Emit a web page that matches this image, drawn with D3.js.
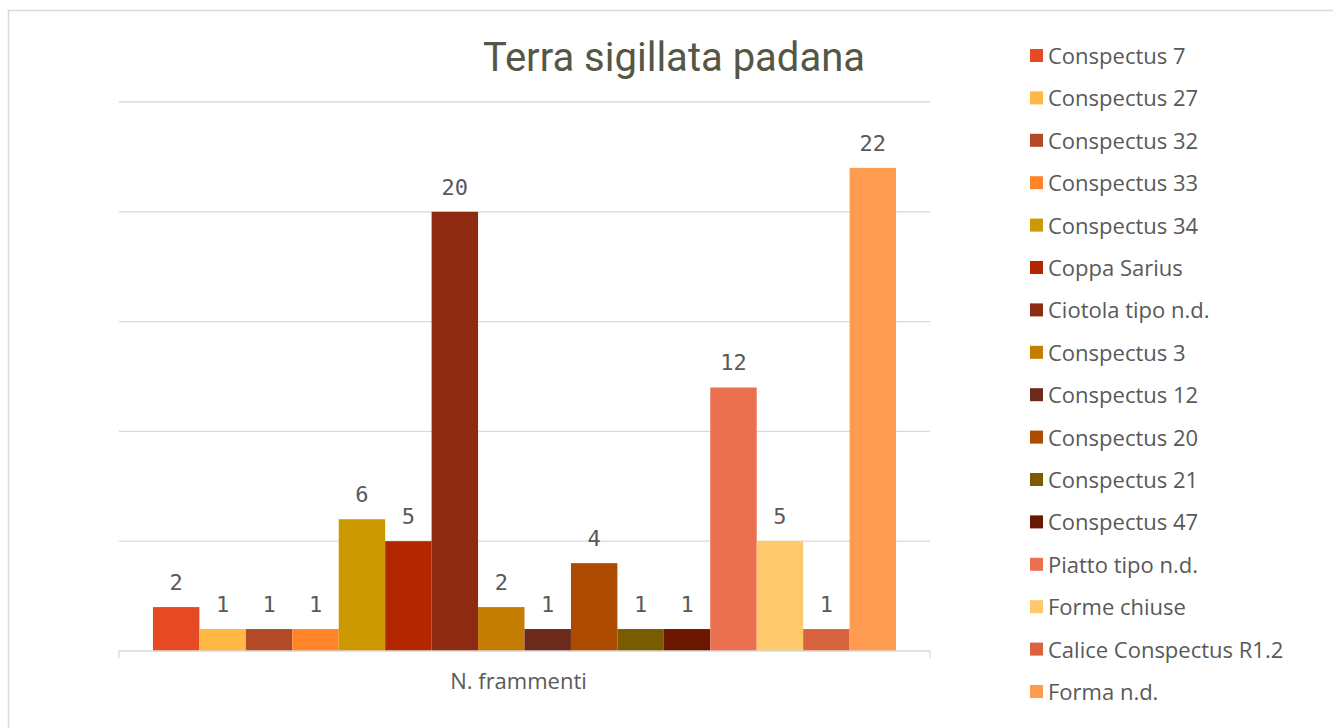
<!DOCTYPE html>
<html>
<head>
<meta charset="utf-8">
<script src="https://cdn.jsdelivr.net/npm/d3@7"></script>
<style>
  body { margin: 0; background: #fff; }
  svg { display: block; }
</style>
</head>
<body>
<svg width="1333" height="728"></svg>
<script>
const categories = ["N. frammenti"];
const seriesNames = ["Conspectus 7", "Conspectus 27", "Conspectus 32", "Conspectus 33", "Conspectus 34",
  "Coppa Sarius", "Ciotola tipo n.d.", "Conspectus 3", "Conspectus 12", "Conspectus 20",
  "Conspectus 21", "Conspectus 47", "Piatto tipo n.d.", "Forme chiuse", "Calice Conspectus R1.2", "Forma n.d."];
const seriesValues = [2, 1, 1, 1, 6, 5, 20, 2, 1, 4, 1, 1, 12, 5, 1, 22];
const seriesColors = ["#E64A24", "#FFB845", "#B34A27", "#FF8528", "#CC9900", "#B22600", "#8F2A12", "#C47D00",
  "#6B2A1A", "#AD4C00", "#7A5C00", "#6B1700", "#EB704F", "#FFC86B", "#D9633F", "#FF9C52"];
const yTicks = [0, 5, 10, 15, 20, 25];

const svg = d3.select("svg");
const textColor = "#595959";

// chart frame
svg.append("rect")
    .attr("x", 8.5).attr("y", 10.5)
    .attr("width", 1400).attr("height", 800)
    .attr("fill", "none")
    .attr("stroke", "#d9d9d9")
    .attr("stroke-width", 1.5);

const plot = { left: 119, right: 930, top: 102, bottom: 651 };

const x = d3.scaleBand()
    .domain(categories)
    .range([plot.left, plot.right])
    .paddingInner(0)
    .paddingOuter(0.0457);

const xs = d3.scaleBand()
    .domain(seriesNames)
    .range([0, x.bandwidth()]);

const y = d3.scaleLinear()
    .domain([0, 25])
    .range([plot.bottom, plot.top]);

// gridlines
svg.append("g")
    .selectAll("line")
    .data(yTicks.slice(1))
    .join("line")
    .attr("x1", plot.left)
    .attr("x2", plot.right)
    .attr("y1", d => y(d))
    .attr("y2", d => y(d))
    .attr("stroke", "#d9d9d9")
    .attr("stroke-width", 1.3);

// bars
const group = svg.append("g")
    .attr("transform", `translate(${x(categories[0])},0)`);

group.selectAll("rect")
    .data(seriesValues)
    .join("rect")
    .attr("x", (d, i) => xs(seriesNames[i]))
    .attr("y", d => y(d))
    .attr("width", xs.bandwidth())
    .attr("height", d => y(0) - y(d))
    .attr("fill", (d, i) => seriesColors[i]);

group.selectAll("text")
    .data(seriesValues)
    .join("text")
    .attr("x", (d, i) => xs(seriesNames[i]) + xs.bandwidth() / 2)
    .attr("y", d => y(d) - 17)
    .attr("text-anchor", "middle")
    .attr("font-family", "DejaVu Sans Mono, monospace")
    .attr("font-size", 22)
    .attr("fill", textColor)
    .text(d => d);

// x axis
const xAxis = svg.append("g")
    .attr("transform", `translate(0,${plot.bottom})`)
    .call(d3.axisBottom(x).tickSize(0).tickPadding(22));
xAxis.select(".domain").remove();
xAxis.selectAll("text")
    .attr("font-family", "Open Sans, sans-serif")
    .attr("font-size", 22)
    .attr("dx", -6)
    .attr("fill", textColor);
xAxis.append("path")
    .attr("d", `M${plot.left},7V0H${plot.right}V7`)
    .attr("fill", "none")
    .attr("stroke", "#d9d9d9")
    .attr("stroke-width", 1.3);

// title
svg.append("text")
    .attr("x", 674)
    .attr("y", 71)
    .attr("text-anchor", "middle")
    .attr("font-family", "Roboto, sans-serif")
    .attr("font-size", 40)
    .attr("fill", "#545646")
    .text("Terra sigillata padana");

// legend
const legend = svg.append("g")
    .selectAll("g")
    .data(seriesNames)
    .join("g")
    .attr("transform", (d, i) => `translate(1030,${56 + i * 42.4})`);

legend.append("rect")
    .attr("x", 0).attr("y", -7)
    .attr("width", 13).attr("height", 13)
    .attr("fill", (d, i) => seriesColors[i]);

legend.append("text")
    .attr("x", 18)
    .attr("y", 8)
    .attr("font-family", "Open Sans, sans-serif")
    .attr("font-size", 22)
    .attr("fill", textColor)
    .text(d => d);
</script>
</body>
</html>
